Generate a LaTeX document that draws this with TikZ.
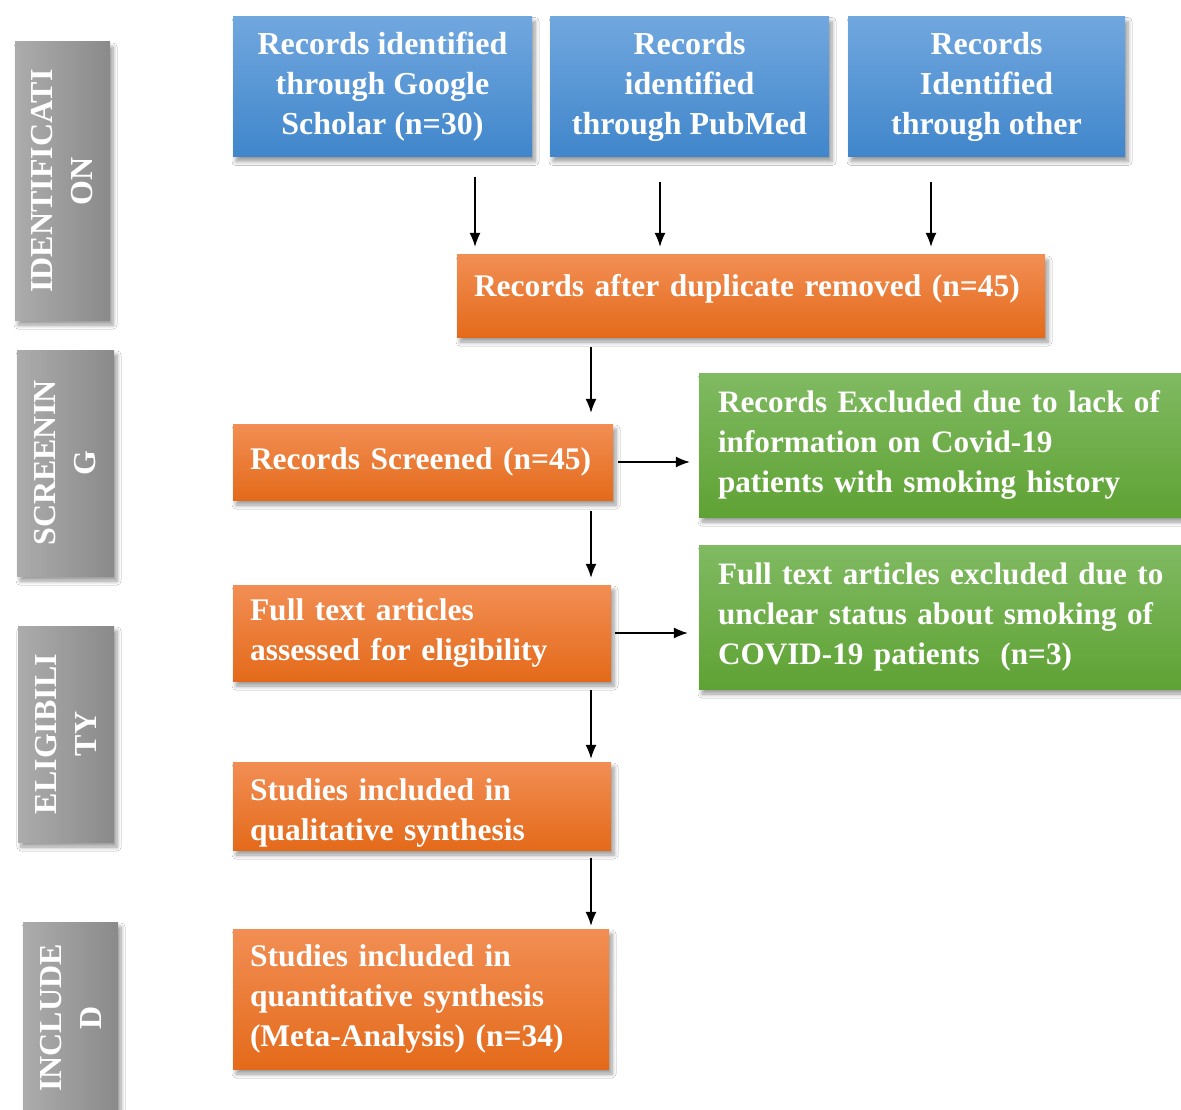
\documentclass[tikz,border=0pt]{standalone}
\usepackage{fontspec}
\setmainfont{Liberation Serif}
\usetikzlibrary{shadows.blur,arrows.meta}

\definecolor{bluetop}{RGB}{113,167,223}
\definecolor{bluebot}{RGB}{64,134,203}
\definecolor{orangetop}{RGB}{242,142,84}
\definecolor{orangebot}{RGB}{228,106,26}
\definecolor{greentop}{RGB}{128,186,98}
\definecolor{greenbot}{RGB}{95,162,52}
\definecolor{grayleft}{RGB}{172,172,172}
\definecolor{grayright}{RGB}{138,138,138}

\tikzset{
  box/.style={draw=none, text=white, inner ysep=0pt,
    font=\bfseries\fontsize{32}{40}\selectfont,
    blur shadow={shadow xshift=3pt, shadow yshift=-5pt, shadow opacity=40,
      shadow blur steps=6, shadow blur radius=4pt}},
  stage/.style={box, rotate=90, left color=grayleft, right color=grayright,
    align=center},
  srcbox/.style={box, top color=bluetop, bottom color=bluebot, align=center},
  stepbox/.style={box, top color=orangetop, bottom color=orangebot,
    align=left, inner xsep=17pt, font=\bfseries\fontsize{31.5}{40}\selectfont},
  exclbox/.style={box, top color=greentop, bottom color=greenbot,
    align=left, inner xsep=19pt, text width=482pt, minimum width=520pt,
    minimum height=144pt, font=\bfseries\fontsize{31.2}{40}\selectfont},
  arr/.style={->, line width=1.3pt, >={Latex[length=14pt,width=11pt]}},
}

\begin{document}
\begin{tikzpicture}[x=1pt, y=-1pt]
  \clip (0,0) rectangle (1181,1110);
  \fill[white] (0,0) rectangle (1181,1110);

  % stage labels
  \node[stage, minimum width=278pt, minimum height=95pt] (idlab) at (62.5,181) {IDENTIFICATI\\ON};
  \node[stage, minimum width=226pt, minimum height=97pt] (sclab) at (65.5,463) {SCREENIN\\G};
  \node[stage, minimum width=216pt, minimum height=96pt] (ellab) at (66,734) {ELIGIBILI\\TY};
  \node[stage, minimum width=192pt, minimum height=95pt] (inlab) at (70.5,1018) {INCLUDE\\D};

  % sources
  \node[srcbox, minimum width=299pt, minimum height=140pt] (google) at (382.5,86.5)
    {Records identified\\through Google\\Scholar (n=30)};
  \node[srcbox, minimum width=279pt, minimum height=140pt] (pubmed) at (689.5,86.5)
    {Records\\identified\\through PubMed};
  \node[srcbox, minimum width=277pt, minimum height=140pt] (other) at (986.5,86.5)
    {Records\\Identified\\through other};

  % main steps
  \node[stepbox, text width=554pt, minimum width=588pt, minimum height=82pt,
    text depth=22pt] (dup) at (751,296)
    {Records after duplicate removed (n=45)};
  \node[stepbox, text width=346pt, minimum width=380pt, minimum height=76pt] (screened) at (423,462)
    {Records Screened (n=45)};
  \node[stepbox, text width=344pt, minimum width=378pt, minimum height=96pt] (fulltext) at (422,633)
    {Full text articles\\assessed for eligibility};
  \node[stepbox, text width=344pt, minimum width=378pt, minimum height=88pt,
    text height=36pt] (qual) at (422,806)
    {Studies included in\\qualitative synthesis};
  \node[stepbox, text width=342pt, minimum width=376pt, minimum height=140pt] (quant) at (421,999)
    {Studies included in\\quantitative synthesis\\(Meta-Analysis) (n=34)};

  % exclusions
  \node[exclbox] (excl1) at (959,445)
    {Records Excluded due to lack of\\information on Covid-19\\patients with smoking history};
  \node[exclbox] (excl2) at (959,617)
    {Full text articles excluded due to\\unclear status about smoking of\\COVID-19 patients~~(n=3)};

  % arrows
  \coordinate (ga) at (475,0);
  \coordinate (pa) at (660,0);
  \coordinate (oa) at (931,0);
  \coordinate (spine) at (591,0);
  \draw[arr, shorten <=20pt, shorten >=8pt] (google.south -| ga) -- (dup.north -| ga);
  \draw[arr, shorten <=25pt, shorten >=8pt] (pubmed.south -| pa) -- (dup.north -| pa);
  \draw[arr, shorten <=25pt, shorten >=8pt] (other.south -| oa) -- (dup.north -| oa);
  \draw[arr, shorten <=10pt, shorten >=11pt] (dup.south -| spine) -- (screened.north -| spine);
  \draw[arr, shorten <=5pt, shorten >=9pt] (screened.east) -- (screened.east -| excl1.west);
  \draw[arr, shorten <=11pt, shorten >=7pt] (screened.south -| spine) -- (fulltext.north -| spine);
  \draw[arr, shorten <=4pt, shorten >=11pt] (fulltext.east) -- (fulltext.east -| excl2.west);
  \draw[arr, shorten <=9pt, shorten >=3pt] (fulltext.south -| spine) -- (qual.north -| spine);
  \draw[arr, shorten <=8pt, shorten >=3pt] (qual.south -| spine) -- (quant.north -| spine);
\end{tikzpicture}
\end{document}
